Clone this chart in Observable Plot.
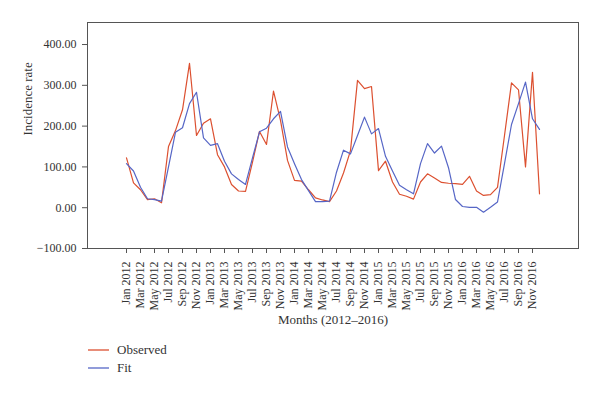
<!DOCTYPE html>
<html>
<head>
<meta charset="utf-8">
<script src="https://cdn.jsdelivr.net/npm/d3@7"></script>
<script src="https://cdn.jsdelivr.net/npm/@observablehq/plot@0.6"></script>
<style>
  html, body { margin: 0; padding: 0; background: #fff; }
  #wrap { position: relative; width: 600px; height: 393px; }
  #legend { position: absolute; left: 88px; top: 341px; font: 13px "Liberation Serif", serif; color: #333; }
  #legend .row { height: 18px; line-height: 18px; display: flex; align-items: center; }
  #legend svg { margin-right: 8px; }
</style>
</head>
<body>
<div id="wrap"></div>
<script>
const months = [
  "Jan 2012","Feb 2012","Mar 2012","Apr 2012","May 2012","Jun 2012","Jul 2012","Aug 2012","Sep 2012","Oct 2012","Nov 2012","Dec 2012",
  "Jan 2013","Feb 2013","Mar 2013","Apr 2013","May 2013","Jun 2013","Jul 2013","Aug 2013","Sep 2013","Oct 2013","Nov 2013","Dec 2013",
  "Jan 2014","Feb 2014","Mar 2014","Apr 2014","May 2014","Jun 2014","Jul 2014","Aug 2014","Sep 2014","Oct 2014","Nov 2014","Dec 2014",
  "Jan 2015","Feb 2015","Mar 2015","Apr 2015","May 2015","Jun 2015","Jul 2015","Aug 2015","Sep 2015","Oct 2015","Nov 2015","Dec 2015",
  "Jan 2016","Feb 2016","Mar 2016","Apr 2016","May 2016","Jun 2016","Jul 2016","Aug 2016","Sep 2016","Oct 2016","Nov 2016","Dec 2016"
];
const tickLabels = [
  "Jan 2012","Mar 2012","May 2012","Jul 2012","Sep 2012","Nov 2012",
  "Jan 2013","Mar 2013","May 2013","Jul 2013","Sep 2013","Nov 2013",
  "Jan 2014","Mar 2014","May 2014","Jul 2014","Sep 2014","Nov 2014",
  "Jan 2015","Mar 2015","May 2015","Jul 2015","Sep 2015","Nov 2015",
  "Jan 2016","Mar 2016","May 2016","Jul 2016","Sep 2016","Nov 2016"
];
const observed = [
  122, 61, 44, 20, 22, 12, 150, 189, 240, 354, 177, 207,
  218, 130, 100, 57, 41, 40, 112, 187, 155, 286, 214, 116,
  67, 65, 44, 24, 19, 15, 41, 85, 140, 312, 292, 297,
  91, 114, 63, 33, 28, 21, 63, 83, 73, 62, 60, 59,
  57, 77, 41, 30, 32, 50, 177, 306, 289, 100, 332, 34
];
const fit = [
  108, 90, 50, 22, 20, 16, 100, 185, 196, 255, 283, 171,
  153, 157, 114, 83, 69, 57, 122, 186, 195, 218, 236, 149,
  108, 69, 42, 15, 15, 16, 87, 141, 132, 177, 222, 181,
  194, 126, 90, 55, 44, 34, 108, 157, 134, 151, 98, 20,
  3, 1, 1, -11, 1, 14, 108, 204, 255, 308, 218, 192
];
const yTicks = [-100, 0, 100, 200, 300, 400];
const seriesNames = ["Observed", "Fit"];
const seriesColors = ["#dc5030", "#5666c6"];

const rows = [];
months.forEach((m, i) => {
  rows.push({month: m, series: "Observed", value: observed[i]});
  rows.push({month: m, series: "Fit", value: fit[i]});
});

const plot = Plot.plot({
  width: 600,
  height: 338,
  marginLeft: 87,
  marginRight: 22,
  marginTop: 22,
  marginBottom: 90,
  style: {fontFamily: "'Liberation Serif', serif", fontSize: "12px", color: "#333", background: "#fff"},
  x: {type: "point", domain: months, padding: 4.03},
  y: {domain: [-100, 454]},
  color: {domain: seriesNames, range: seriesColors},
  marks: [
    Plot.frame({stroke: "#555", strokeWidth: 1}),
    Plot.axisY({ticks: yTicks, tickFormat: d3.format(".2f"), tickSize: 5, tickPadding: 6, label: null, stroke: "#555"}),
    Plot.axisX({ticks: tickLabels, tickRotate: -90, tickSize: 5, tickPadding: 8, label: null, stroke: "#555"}),
    Plot.line(rows, {x: "month", y: "value", z: "series", stroke: "series", strokeWidth: 1.2}),
    Plot.text(["Incidence rate"], {frameAnchor: "left", dx: -60, rotate: -90, fontSize: 13, fill: "#333"}),
    Plot.text(["Months (2012–2016)"], {frameAnchor: "bottom", dy: 75, fontSize: 13, fill: "#333"})
  ]
});

const wrap = document.getElementById("wrap");
wrap.appendChild(plot);

const legend = document.createElement("div");
legend.id = "legend";
seriesNames.forEach((name, k) => {
  const row = document.createElement("div");
  row.className = "row";
  row.innerHTML = `<svg width="21" height="4"><line x1="0" x2="21" y1="2" y2="2" stroke="${seriesColors[k]}" stroke-width="1.3"/></svg><span>${name}</span>`;
  legend.appendChild(row);
});
wrap.appendChild(legend);
</script>
</body>
</html>
